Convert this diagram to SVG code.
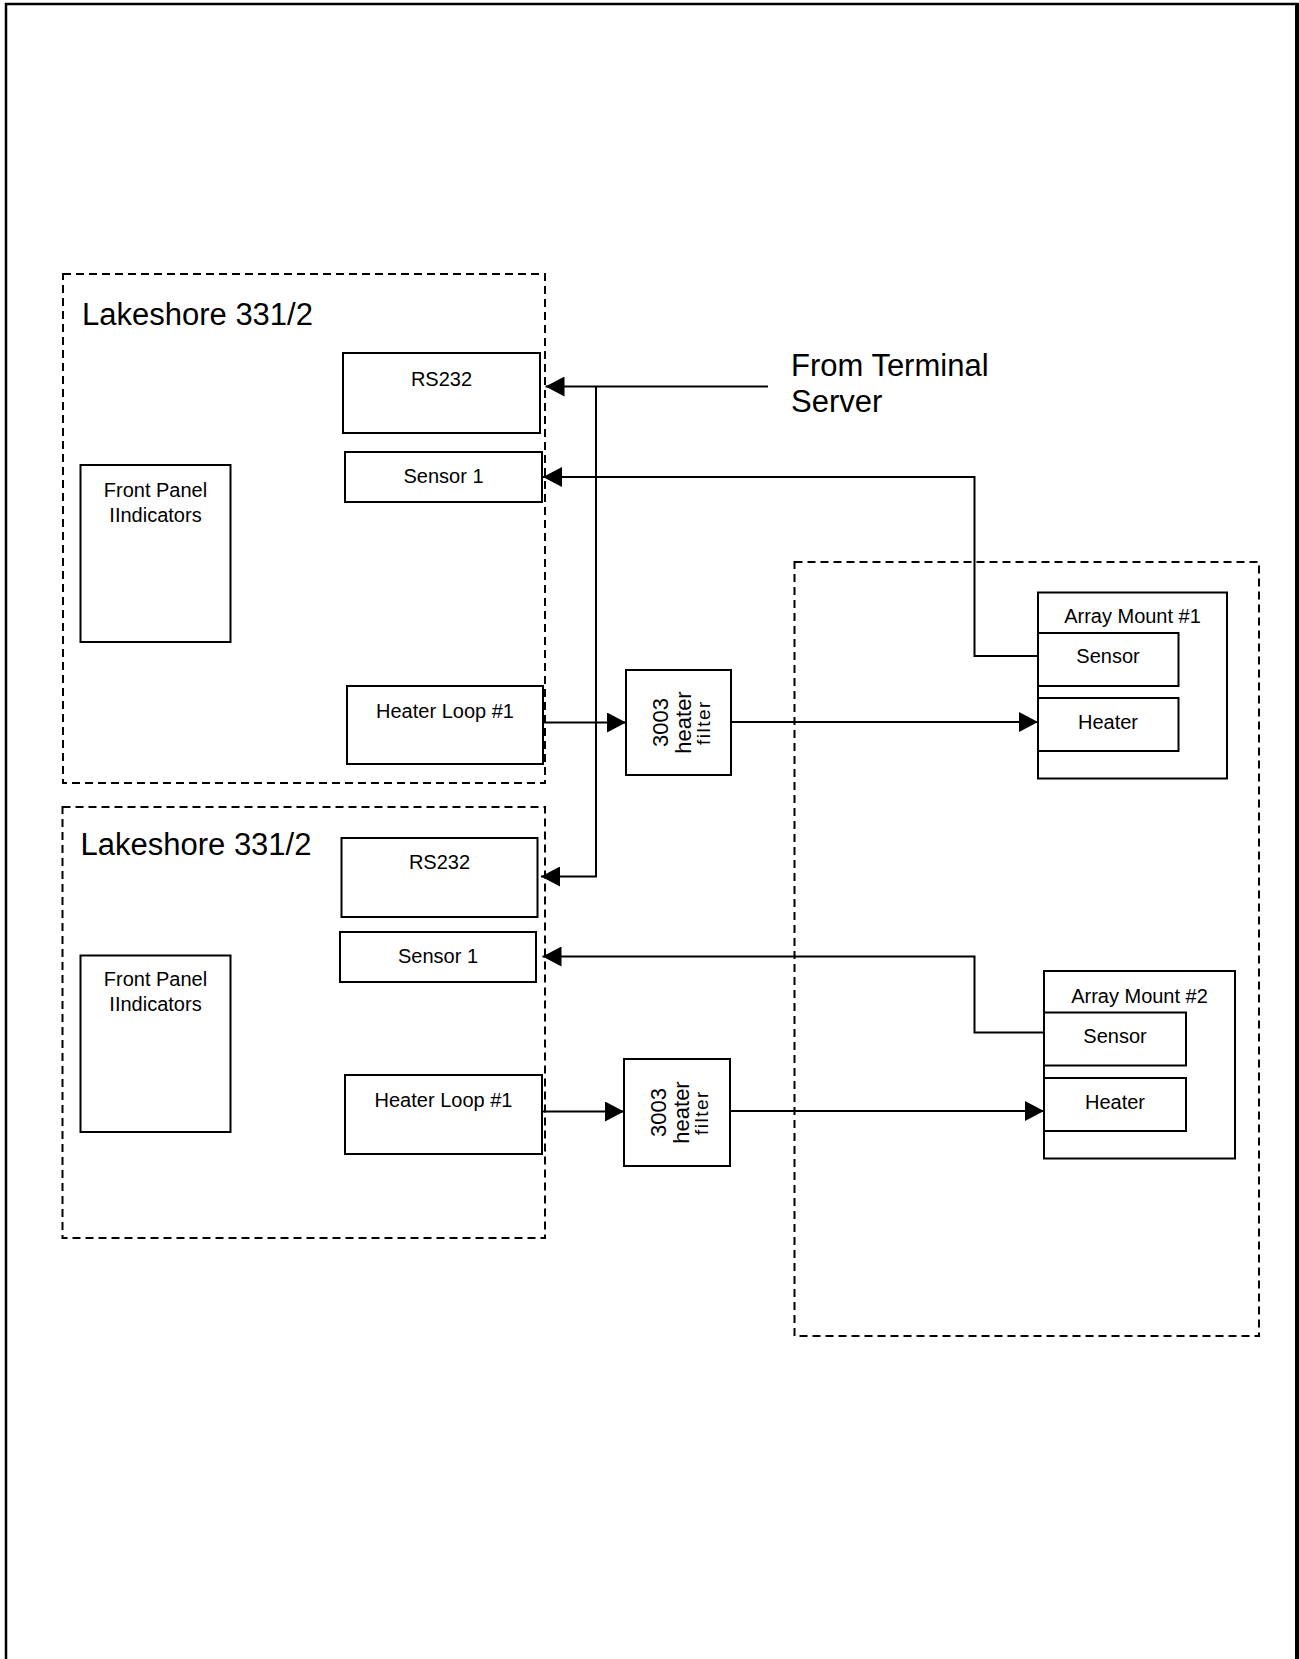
<svg xmlns="http://www.w3.org/2000/svg" width="1299" height="1659" viewBox="0 0 1299 1659">
<defs>
<marker id="arr" viewBox="0 0 19 20" refX="19" refY="10" markerWidth="19" markerHeight="20" markerUnits="userSpaceOnUse" orient="auto">
<path d="M0,0 L19,10 L0,20 z" fill="#000"/>
</marker>
<style>
.box{fill:#fff;stroke:#000;stroke-width:2}
.dash{fill:none;stroke:#000;stroke-width:2;stroke-dasharray:8 5}
.ln{fill:none;stroke:#000;stroke-width:2}
.arw{fill:none;stroke:#000;stroke-width:2;marker-end:url(#arr)}
text{font-family:"Liberation Sans",Arial,sans-serif;fill:#000}
.t20{font-size:20px;text-anchor:middle}
.t30{font-size:31px}
.rot{font-size:22px;text-anchor:middle}
.rots{font-size:19px;text-anchor:middle;letter-spacing:1.5px}
</style>
</defs>
<rect width="1299" height="1659" fill="#fff"/>
<g id="page-border">
<path d="M6,1659 V4 H1297 V1659" fill="none" stroke="#000" stroke-width="2.5"/>
<line x1="1297" y1="3" x2="1297" y2="1659" stroke="#000" stroke-width="4"/>
</g>

<g id="lakeshore-1">
<rect class="dash" x="63" y="274" width="482" height="509"/>
<text class="t30" x="82" y="325">Lakeshore 331/2</text>
</g>
<g id="rs232-1">
<rect class="box" x="343" y="353" width="197" height="80"/>
<text class="t20" x="441.5" y="386">RS232</text>
</g>
<g id="sensor1-1">
<rect class="box" x="345" y="452" width="197" height="50"/>
<text class="t20" x="443.5" y="483">Sensor 1</text>
</g>
<g id="frontpanel-1">
<rect class="box" x="80.5" y="465" width="150" height="177"/>
<text class="t20" x="155.5" y="497">Front Panel</text>
<text class="t20" x="155.5" y="522">IIndicators</text>
</g>
<g id="heaterloop-1">
<rect class="box" x="347" y="686" width="196" height="78"/>
<text class="t20" x="445" y="718">Heater Loop #1</text>
</g>
<g id="filter-1">
<rect class="box" x="626" y="670" width="105" height="105"/>
<text class="rot" transform="translate(668,722.5) rotate(-90)">3003</text>
<text class="rot" transform="translate(691,722.5) rotate(-90)">heater</text>
<text class="rots" transform="translate(710,722.5) rotate(-90)">filter</text>
</g>

<g id="lakeshore-2">
<rect class="dash" x="62.5" y="807" width="482.5" height="431"/>
<text class="t30" x="80.5" y="855">Lakeshore 331/2</text>
</g>
<g id="rs232-2">
<rect class="box" x="341.5" y="838" width="196" height="79"/>
<text class="t20" x="439.5" y="869">RS232</text>
</g>
<g id="sensor1-2">
<rect class="box" x="340" y="932" width="196" height="50"/>
<text class="t20" x="438" y="963">Sensor 1</text>
</g>
<g id="frontpanel-2">
<rect class="box" x="80.5" y="955.5" width="150" height="176.5"/>
<text class="t20" x="155.5" y="986">Front Panel</text>
<text class="t20" x="155.5" y="1011">IIndicators</text>
</g>
<g id="heaterloop-2">
<rect class="box" x="345" y="1075" width="197" height="79"/>
<text class="t20" x="443.5" y="1107">Heater Loop #1</text>
</g>
<g id="filter-2">
<rect class="box" x="624" y="1059" width="106" height="107"/>
<text class="rot" transform="translate(666,1112.5) rotate(-90)">3003</text>
<text class="rot" transform="translate(689,1112.5) rotate(-90)">heater</text>
<text class="rots" transform="translate(708,1112.5) rotate(-90)">filter</text>
</g>

<g id="array-enclosure">
<rect class="dash" x="794.5" y="562" width="464.5" height="774"/>
</g>
<g id="array-mount-1">
<rect class="box" x="1038" y="592.5" width="189" height="186"/>
<text class="t20" x="1132.5" y="623">Array Mount #1</text>
</g>
<g id="am1-sensor">
<rect class="box" x="1038" y="633" width="140.5" height="53"/>
<text class="t20" x="1108" y="663">Sensor</text>
</g>
<g id="am1-heater">
<rect class="box" x="1038" y="698" width="140.5" height="53"/>
<text class="t20" x="1108" y="729">Heater</text>
</g>
<g id="array-mount-2">
<rect class="box" x="1044" y="971" width="191" height="187.5"/>
<text class="t20" x="1139.5" y="1003">Array Mount #2</text>
</g>
<g id="am2-sensor">
<rect class="box" x="1044" y="1012.5" width="142" height="53"/>
<text class="t20" x="1115" y="1043">Sensor</text>
</g>
<g id="am2-heater">
<rect class="box" x="1044" y="1078" width="142" height="53"/>
<text class="t20" x="1115" y="1109">Heater</text>
</g>

<g id="terminal-server-label">
<text class="t30" x="791" y="376">From Terminal</text>
<text class="t30" x="791" y="412">Server</text>
</g>

<g id="connectors">
<line class="arw" x1="768" y1="386.5" x2="545.5" y2="386.5"/>
<line class="ln" x1="596" y1="386.5" x2="596" y2="876.5"/>
<line class="arw" x1="597" y1="876.5" x2="541" y2="876.5"/>
<polyline class="arw" points="1038,656 974.5,656 974.5,477 543,477"/>
<line class="arw" x1="543" y1="722.5" x2="626" y2="722.5"/>
<line class="arw" x1="731" y1="722" x2="1038" y2="722"/>
<polyline class="arw" points="1044,1032.5 974.5,1032.5 974.5,956.5 542.5,956.5"/>
<line class="arw" x1="542" y1="1111.5" x2="624" y2="1111.5"/>
<line class="arw" x1="730" y1="1111" x2="1044" y2="1111"/>
</g>
</svg>
